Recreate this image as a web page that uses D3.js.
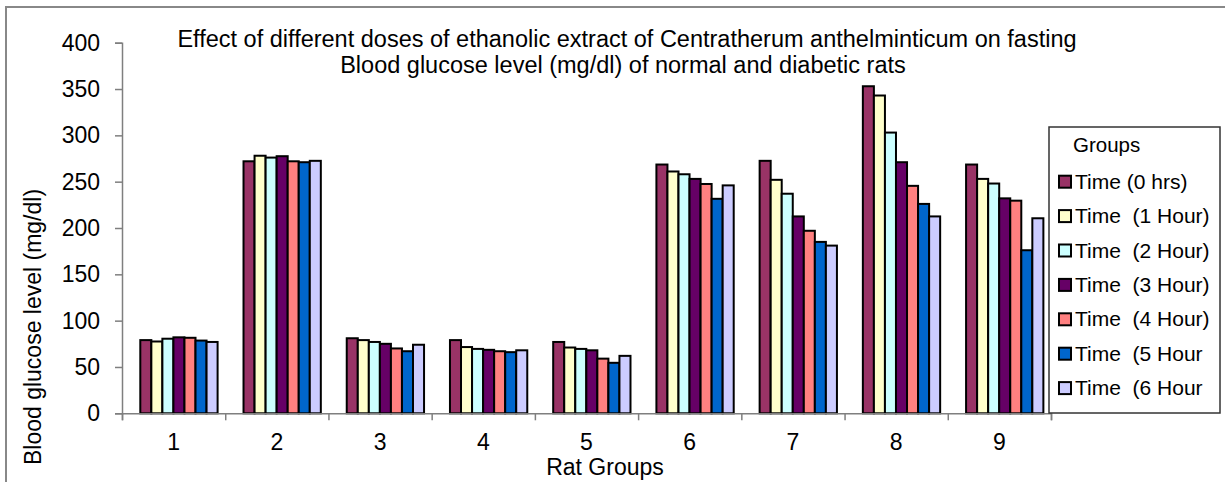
<!DOCTYPE html>
<html lang="en">
<head>
<meta charset="UTF-8"/>
<title>Blood glucose chart</title>
<script src="https://d3js.org/d3.v7.min.js" charset="utf-8"></script>
<style type="text/css">
    body { margin: 0; background: #fff; }
    text {
        font-family: "Liberation Sans", Arial, sans-serif;
        fill: #000;
        white-space: pre;
    }
    .axis path, .axis line {
        fill: none;
        stroke: #7f7f7f;
        stroke-width: 1.5px;
    }
    .axis text { font-size: 23px; }
    rect.bar { stroke: #000; stroke-width: 2px; }
</style>
</head>
<body>
<script>
    // data
    var groups = ["1", "2", "3", "4", "5", "6", "7", "8", "9"];
    var seriesNames = ["Time (0 hrs)", "Time  (1 Hour)", "Time  (2 Hour)", "Time  (3 Hour)",
        "Time  (4 Hour)", "Time  (5 Hour", "Time  (6 Hour"];
    var colors = ["#993366", "#ffffcc", "#ccffff", "#660066", "#ff8080", "#0066cc", "#ccccff"];
    // one array per time point, values for rat groups 1..9
    var t0 = [79, 272, 81, 79, 77, 268.5, 272.5, 353, 268.5];
    var t1 = [77.5, 278, 79, 71.5, 71, 261, 252, 343, 253];
    var t2 = [80.5, 276, 77, 69.5, 69.5, 258, 237, 303, 248];
    var t3 = [82, 277.5, 75, 68.5, 68, 253, 212.5, 271, 232];
    var t4 = [81.5, 272, 70, 67, 59, 247.5, 197, 245.5, 229.5];
    var t5 = [78.5, 271, 67, 66, 54.5, 231.5, 185, 226, 176];
    var t6 = [77, 272.5, 74, 68, 62, 246, 181, 212.5, 210.5];
    var series = [t0, t1, t2, t3, t4, t5, t6];
    var yTicks = [0, 50, 100, 150, 200, 250, 300, 350, 400];

    var W = 1225, H = 482;
    var svg = d3.select("body").append("svg")
        .attr("width", W)
        .attr("height", H);

    // outer chart border
    svg.append("rect")
        .attr("x", 6).attr("y", 7)
        .attr("width", 1240).attr("height", 500)
        .attr("fill", "#fff")
        .attr("stroke", "#888")
        .attr("stroke-width", 2);

    var x0 = d3.scaleBand().domain(groups).range([122, 1051]);
    var xTickScale = d3.scaleLinear().domain([0, 9]).range([122, 1051]);
    var x1 = d3.scaleBand().domain(d3.range(series.length))
        .range([18.3, 18.3 + 77.3]);
    var y = d3.scaleLinear().domain([0, 400]).range([413.3, 42.7]);

    // bars
    var rows = groups.map(function (g, i) {
        return {group: g, values: series.map(function (s) { return s[i]; })};
    });
    var gGroup = svg.selectAll("g.grp")
        .data(rows)
        .enter().append("g")
        .attr("class", "grp")
        .attr("transform", function (d) { return "translate(" + x0(d.group) + ",0)"; });
    gGroup.selectAll("rect")
        .data(function (d) { return d.values; })
        .enter().append("rect")
        .attr("class", "bar")
        .attr("x", function (d, i) { return x1(i); })
        .attr("width", x1.bandwidth())
        .attr("y", function (d) { return y(d); })
        .attr("height", function (d) { return y(0) - y(d); })
        .attr("fill", function (d, i) { return colors[i]; });

    // y axis
    svg.append("g")
        .attr("class", "axis")
        .attr("transform", "translate(122,0)")
        .call(d3.axisLeft(y).tickValues(yTicks).tickSize(7).tickPadding(15));

    // x axis: ticks at the boundaries, labels in the middle
    svg.append("g")
        .attr("class", "axis")
        .attr("transform", "translate(0," + y(0) + ")")
        .call(d3.axisBottom(xTickScale).ticks(9).tickSize(7).tickFormat(""));
    var xl = svg.append("g")
        .attr("class", "axis")
        .attr("transform", "translate(0," + y(0) + ")")
        .call(d3.axisBottom(x0).tickSize(0).tickPadding(20.5));
    xl.select(".domain").remove();

    // titles
    svg.append("text")
        .attr("x", 627).attr("y", 47)
        .attr("text-anchor", "middle")
        .style("font-size", "23.5px")
        .text("Effect of different doses of ethanolic extract of Centratherum anthelminticum on fasting");
    svg.append("text")
        .attr("x", 623).attr("y", 73)
        .attr("text-anchor", "middle")
        .style("font-size", "23.5px")
        .text("Blood glucose level (mg/dl) of normal and diabetic rats");
    svg.append("text")
        .attr("x", 605).attr("y", 475)
        .attr("text-anchor", "middle")
        .style("font-size", "23px")
        .text("Rat Groups");
    svg.append("text")
        .attr("transform", "translate(41,327) rotate(-90)")
        .attr("text-anchor", "middle")
        .style("font-size", "23px")
        .text("Blood glucose level (mg/dl)");

    // legend
    var lg = svg.append("g").attr("transform", "translate(1049,127)");
    lg.append("rect")
        .attr("width", 171).attr("height", 286)
        .attr("fill", "#fff")
        .attr("stroke", "#333")
        .attr("stroke-width", 1.5);
    lg.append("text")
        .attr("x", 24).attr("y", 25)
        .style("font-size", "20.5px")
        .text("Groups");
    var item = lg.selectAll("g.item")
        .data(seriesNames)
        .enter().append("g")
        .attr("class", "item")
        .attr("transform", function (d, i) { return "translate(0," + (54.7 + i * 34.4) + ")"; });
    item.append("rect")
        .attr("x", 10).attr("y", -6)
        .attr("width", 12).attr("height", 12)
        .attr("fill", function (d, i) { return colors[i]; })
        .attr("stroke", "#000")
        .attr("stroke-width", 2);
    item.append("text")
        .attr("x", 26).attr("y", 7)
        .style("font-size", "21px")
        .text(function (d) { return d; });
</script>
</body>
</html>
